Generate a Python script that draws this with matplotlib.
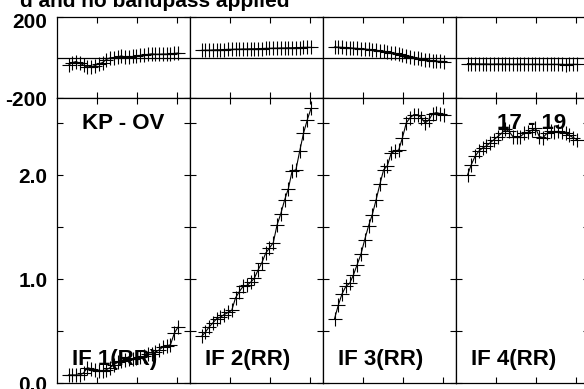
import numpy as np
import matplotlib
matplotlib.use("Agg")
import matplotlib.pyplot as plt
import matplotlib.transforms as mtransforms

plt.rcParams['font.family'] = ['Liberation Sans', 'DejaVu Sans']
plt.rcParams['font.weight'] = 'bold'

# channel numbers (30 channels per IF)
canales = np.arange(1, 31)

# fase (grados) por IF
fase_if1 = [-38, -25, -20, -28, -38, -48, -45, -40, -32, -25, -10, -2, 0, 3, 8,
            2, 2, 5, 8, 10, 12, 15, 18, 16, 16, 17, 17, 18, 20, 22]
fase_if2 = [35, 36, 36, 37, 38, 38, 39, 40, 40, 41, 41, 42, 42, 43, 43,
            44, 44, 45, 45, 46, 46, 47, 47, 48, 48, 49, 49, 50, 50, 50]
fase_if3 = [52, 51, 50, 49, 48, 46, 45, 43, 41, 40, 38, 36, 33, 30, 27,
            24, 20, 16, 12, 8, 4, 0, -4, -8, -11, -14, -16, -18, -19, -20]
fase_if4 = [-30, -31, -31, -32, -32, -32, -33, -33, -32, -33, -33, -33, -34, -33, -33,
            -33, -34, -34, -33, -34, -34, -34, -34, -34, -34, -34, -35, -34, -34, -34]

# amplitud por IF
amp_if1 = [0.08, 0.08, 0.08, 0.08, 0.10, 0.15, 0.14, 0.13, 0.12, 0.12, 0.13, 0.15, 0.18, 0.20, 0.21,
           0.22, 0.23, 0.23, 0.24, 0.25, 0.26, 0.28, 0.28, 0.30, 0.32, 0.35, 0.36, 0.37, 0.48, 0.54]
amp_if2 = [0.45, 0.49, 0.54, 0.58, 0.62, 0.635, 0.66, 0.68, 0.70, 0.82, 0.88, 0.93, 0.94, 0.97, 1.01,
           1.09, 1.16, 1.25, 1.30, 1.35, 1.52, 1.63, 1.76, 1.87, 2.04, 2.05, 2.23, 2.40, 2.53, 2.64]
amp_if3 = [0.62, 0.75, 0.86, 0.93, 0.96, 1.04, 1.14, 1.24, 1.38, 1.51, 1.62, 1.76, 1.91, 2.05, 2.09,
           2.21, 2.23, 2.24, 2.36, 2.50, 2.55, 2.58, 2.58, 2.55, 2.50, 2.53, 2.59, 2.60, 2.59, 2.58]
amp_if4 = [2.00, 2.10, 2.18, 2.23, 2.26, 2.28, 2.31, 2.34, 2.37, 2.40, 2.44, 2.42, 2.37, 2.37, 2.37,
           2.40, 2.41, 2.43, 2.45, 2.37, 2.36, 2.40, 2.42, 2.41, 2.42, 2.41, 2.40, 2.38, 2.36, 2.34]

fases = [fase_if1, fase_if2, fase_if3, fase_if4]
amps = [amp_if1, amp_if2, amp_if3, amp_if4]
etiquetas_if = ["IF 1(RR)", "IF 2(RR)", "IF 3(RR)", "IF 4(RR)"]

W, H = 584, 389
fig = plt.figure(figsize=(W / 100, H / 100), dpi=100)

x_izq = 57
ancho = 133
xlim = (-2.05, 33.17)
paso = (xlim[1] - xlim[0]) * 40 / ancho
xticks = [xlim[0] + paso * k for k in (1, 2, 3)]


def estilo(ax):
    ax.tick_params(direction='in', which='both', top=True, right=True,
                   length=4.5, width=0.8, labelsize=15, pad=7)
    for s in ax.spines.values():
        s.set_linewidth(0.9)


for i in range(4):
    izq = (x_izq + ancho * i) / W
    # panel de fase
    axf = fig.add_axes([izq, (H - 98) / H, ancho / W, 81 / H])
    axf.axhline(0, color='black', lw=0.9)
    axf.plot(canales, fases[i], color='black', lw=0.8, marker='+', ms=10, mew=0.8)
    axf.set_xlim(xlim)
    axf.set_ylim(-200, 200)
    axf.set_xticks(xticks)
    axf.set_xticklabels([])
    axf.set_yticks([-200, 200])
    axf.tick_params(axis='y', length=0)
    estilo(axf)
    if i == 0:
        axf.set_yticklabels(["-200", "200"])
        # bajar un poco la etiqueta superior
        lab = axf.get_yticklabels()[1]
        lab.set_transform(lab.get_transform() +
                          mtransforms.ScaledTranslation(0, -4 / 100, fig.dpi_scale_trans))
    else:
        axf.set_yticklabels([])

    # panel de amplitud
    axa = fig.add_axes([izq, (H - 383.3) / H, ancho / W, 285.3 / H])
    axa.plot(canales, amps[i], color='black', lw=0.8, marker='+', ms=10, mew=0.8)
    axa.set_xlim(xlim)
    axa.set_ylim(0, 2.74)
    axa.set_xticks(xticks)
    axa.set_xticklabels([])
    axa.set_yticks([0, 1, 2])
    axa.set_yticks([0.5, 1.5, 2.5], minor=True)
    estilo(axa)
    if i == 0:
        axa.set_yticklabels(["0.0", "1.0", "2.0"])
    else:
        axa.set_yticklabels([])
    axa.text(15 / ancho, 0.085, etiquetas_if[i], transform=axa.transAxes,
             fontsize=16, fontweight='bold', ha='left', va='center')
    if i == 0:
        axa.text(0.5, 0.91, "KP - OV", transform=axa.transAxes,
                 fontsize=16, fontweight='bold', ha='center', va='center')
    if i == 3:
        axa.text(0.57, 0.91, "17 - 19", transform=axa.transAxes,
                 fontsize=16, fontweight='bold', ha='center', va='center')

fig.text(290 / W, 1 - 7 / H, "d and no bandpass applied", fontsize=15,
         fontweight='bold', ha='right', va='baseline')

fig.savefig("out.png", dpi=100)
